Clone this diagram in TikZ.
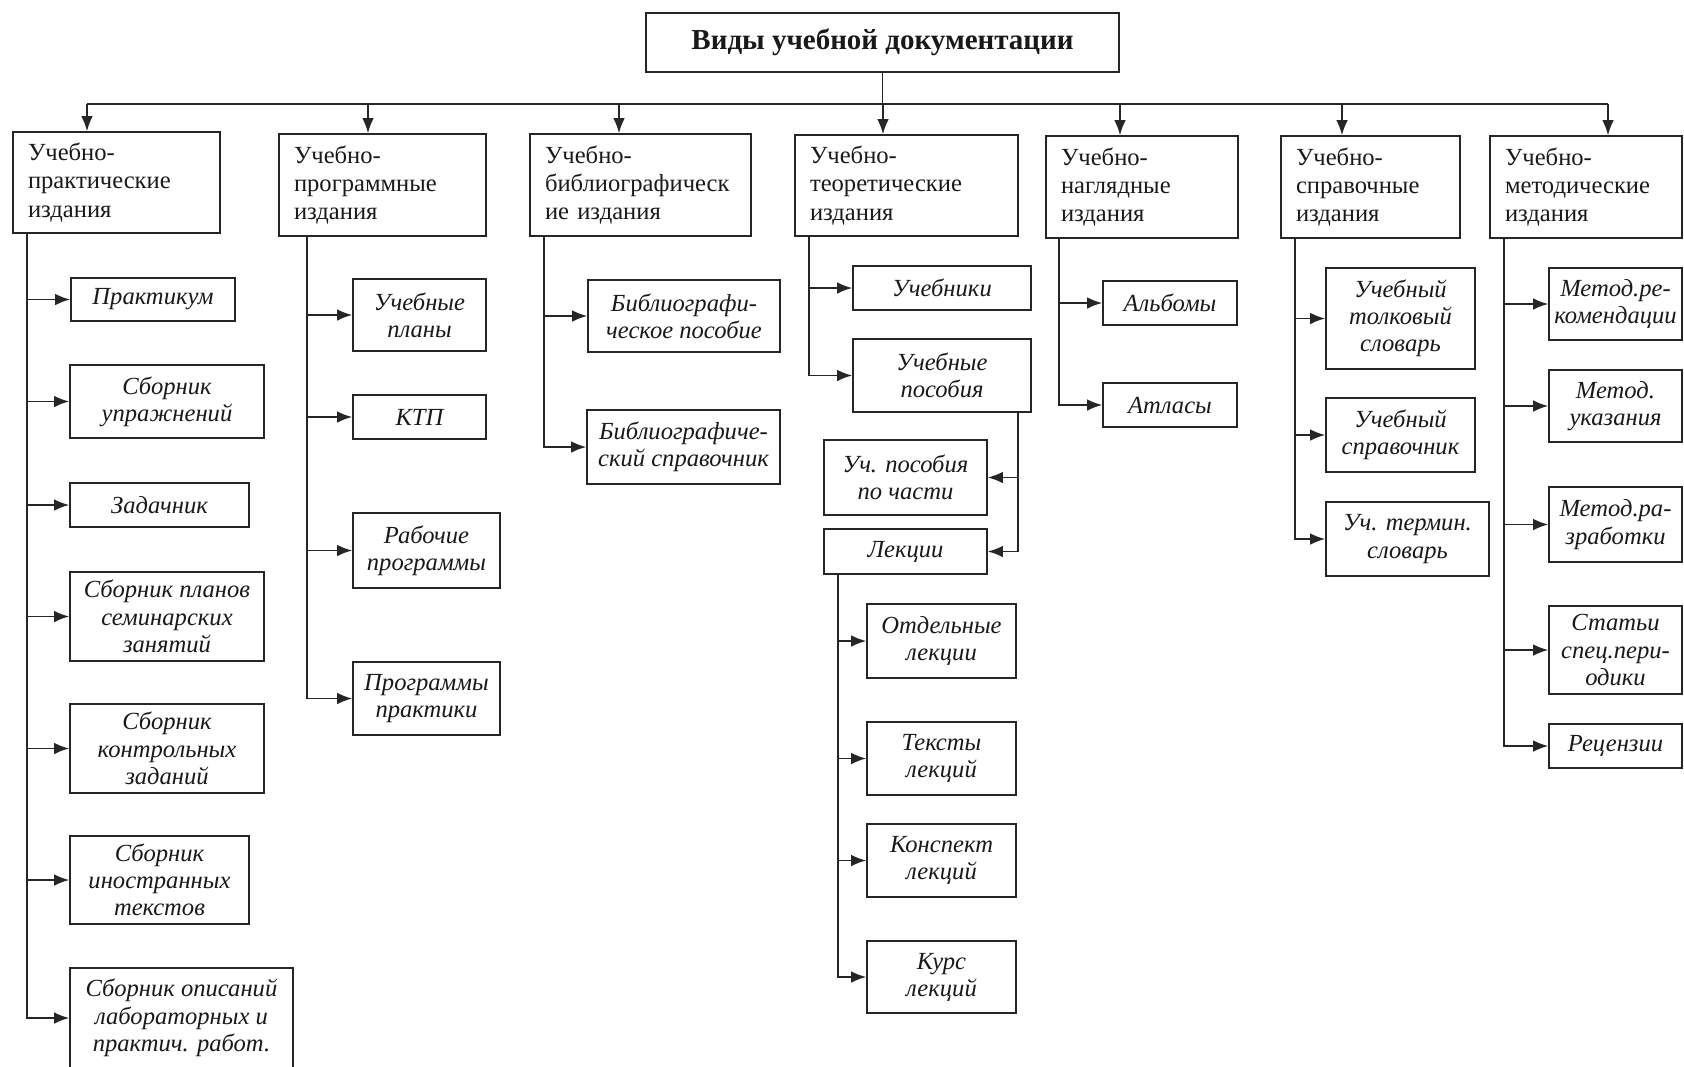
\documentclass[tikz,border=0pt]{standalone}
\usepackage{fontspec}
\setmainfont{Liberation Serif}
\usetikzlibrary{arrows.meta,calc}
\tikzset{
	spot/.style n args={4}{minimum width={(#3-#1)*0.02cm}, minimum height={(#4-#2)*0.02cm}, at={({(#1+#3)/2},{(#2+#4)/2})}},
	box/.style={draw=black!85, line width=0.9pt, inner sep=0pt, text=black!90},
	head/.style={box, font=\fontsize{16.5}{20}\selectfont\bfseries},
	grp/.style={box, align=left, text width=#1, font=\fontsize{14}{16}\selectfont},
	leaf/.style={box, align=center, font=\fontsize{14}{15.5}\selectfont\itshape},
	link/.style={draw=black!85, line width=0.9pt},
	arr/.style={link, -{Latex[length=3mm,width=2.3mm]}}
}

\begin{document}
\begin{tikzpicture}[x=0.02cm, y=-0.02cm]
	%%%%% START %%%%%
	\useasboundingbox (0,0) rectangle (1684,1066);
	\clip (0,0) rectangle (1684,1066);
	
	\node[head, spot={646}{13}{1119}{72}] (root) {Виды учебной документации};
	
	\node[grp=3.54cm, spot={13}{132}{220}{233}] (prakt) {Учебно-\\практические\\издания};
	\node[grp=3.54cm, spot={279}{134}{486}{236}] (progr) {Учебно-\\программные\\издания};
	\node[grp=3.82cm, spot={530}{134}{751}{236}] (bibl) {Учебно-\\библиографическ\\ие издания};
	\node[grp=3.86cm, spot={795}{135}{1018}{236}] (teor) {Учебно-\\теоретические\\издания};
	\node[grp=3.24cm, spot={1046}{136}{1238}{238}] (nagl) {Учебно-\\наглядные\\издания};
	\node[grp=2.98cm, spot={1281}{136}{1460}{238}] (sprav) {Учебно-\\справочные\\издания};
	\node[grp=3.24cm, spot={1490}{136}{1682}{238}] (metod) {Учебно-\\методические\\издания};
	
	% practical
	\node[leaf, spot={71}{278}{235}{321}] (praktikum) {Практикум};
	\node[leaf, spot={70}{365}{264}{438}] (uprazh) {Сборник\\упражнений};
	\node[leaf, spot={70}{483}{249}{527}] (zadach) {Задачник};
	\node[leaf, spot={70}{572}{264}{661}] (seminar) {Сборник планов\\семинарских\\занятий};
	\node[leaf, spot={70}{704}{264}{793}] (kontrol) {Сборник\\контрольных\\заданий};
	\node[leaf, spot={70}{836}{249}{924}] (inostr) {Сборник\\иностранных\\текстов};
	\node[leaf, spot={70}{968}{293}{1068}] (labor) {Сборник описаний\\лабораторных и\\практич. работ.};
	
	% programs
	\node[leaf, spot={353}{279}{486}{351}] (plany) {Учебные\\планы};
	\node[leaf, spot={353}{395}{486}{439}] (ktp) {КТП};
	\node[leaf, spot={353}{513}{500}{588}] (rabochie) {Рабочие\\программы};
	\node[leaf, spot={353}{662}{500}{735}] (praktiki) {Программы\\практики};
	
	% bibliography
	\node[leaf, spot={588}{280}{780}{352}] (posobie) {Библиографи-\\ческое пособие};
	\node[leaf, spot={587}{410}{780}{484}] (spravochnik) {Библиографиче-\\ский справочник};
	
	% theory
	\node[leaf, spot={853}{266}{1031}{310}] (uchebniki) {Учебники};
	\node[leaf, spot={853}{339}{1031}{412}] (uchposob) {Учебные\\пособия};
	\node[leaf, spot={824}{440}{987}{515}] (pochasti) {Уч. пособия\\по части};
	\node[leaf, spot={824}{529}{987}{574}] (lekcii) {Лекции};
	\node[leaf, spot={867}{604}{1016}{678}] (otdel) {Отдельные\\лекции};
	\node[leaf, spot={867}{722}{1016}{795}] (teksty) {Тексты\\лекций};
	\node[leaf, spot={867}{824}{1016}{897}] (konspekt) {Конспект\\лекций};
	\node[leaf, spot={867}{941}{1016}{1013}] (kurs) {Курс\\лекций};
	
	% visual
	\node[leaf, spot={1103}{281}{1237}{325}] (albomy) {Альбомы};
	\node[leaf, spot={1103}{383}{1237}{427}] (atlasy) {Атласы};
	
	% reference
	\node[leaf, spot={1326}{268}{1475}{369}] (tolk) {Учебный\\толковый\\словарь};
	\node[leaf, spot={1326}{398}{1475}{472}] (uchsprav) {Учебный\\справочник};
	\node[leaf, spot={1326}{502}{1489}{576}] (termin) {Уч. термин.\\словарь};
	
	% methodical
	\node[leaf, spot={1549}{268}{1682}{340}] (rekom) {Метод.ре-\\комендации};
	\node[leaf, spot={1549}{370}{1682}{442}] (ukaz) {Метод.\\указания};
	\node[leaf, spot={1549}{487}{1682}{562}] (razrab) {Метод.ра-\\зработки};
	\node[leaf, spot={1549}{606}{1682}{694}] (stati) {Статьи\\спец.пери-\\одики};
	\node[leaf, spot={1549}{724}{1682}{768}] (recenz) {Рецензии};
	
	% bus
	\coordinate (d1) at (87,104);
	\coordinate (d2) at (368,104);
	\coordinate (d3) at (619,104);
	\coordinate (d4) at (883,104);
	\coordinate (d5) at (1120,104);
	\coordinate (d6) at (1342,104);
	\coordinate (d7) at (1608,104);
	\draw[link] (root) -- (root |- d4);
	\draw[link] (d1) -- (d7);
	\foreach \d/\g in {d1/prakt, d2/progr, d3/bibl, d4/teor, d5/nagl, d6/sprav, d7/metod}
		\draw[arr] (\d) -- (\d |- \g.north);
	
	% trunks
	\coordinate (t1) at ($(prakt.south west)+(15,0)$);
	\coordinate (t2) at ($(progr.south west)+(29,0)$);
	\coordinate (t3) at ($(bibl.south west)+(15,0)$);
	\coordinate (t4) at ($(teor.south west)+(15,0)$);
	\coordinate (t4b) at ($(uchposob.south east)+(-14,0)$);
	\coordinate (t4c) at ($(lekcii.south west)+(15,0)$);
	\coordinate (t5) at ($(nagl.south west)+(14,0)$);
	\coordinate (t6) at ($(sprav.south west)+(15,0)$);
	\coordinate (t7) at ($(metod.south west)+(15,0)$);
	
	\foreach \c in {praktikum, uprazh, zadach, seminar, kontrol, inostr, labor}
		\draw[arr] (t1) |- (\c.west);
	\foreach \c in {plany, ktp, rabochie, praktiki}
		\draw[arr] (t2) |- (\c.west);
	\foreach \c in {posobie, spravochnik}
		\draw[arr] (t3) |- (\c.west);
	\foreach \c in {uchebniki, uchposob}
		\draw[arr] (t4) |- (\c.west);
	\foreach \c in {pochasti, lekcii}
		\draw[arr] (t4b) |- (\c.east);
	\foreach \c in {otdel, teksty, konspekt, kurs}
		\draw[arr] (t4c) |- (\c.west);
	\foreach \c in {albomy, atlasy}
		\draw[arr] (t5) |- (\c.west);
	\foreach \c in {tolk, uchsprav, termin}
		\draw[arr] (t6) |- (\c.west);
	\foreach \c in {rekom, ukaz, razrab, stati, recenz}
		\draw[arr] (t7) |- (\c.west);
	
	%%%%% END %%%%%
\end{tikzpicture}
\end{document}
